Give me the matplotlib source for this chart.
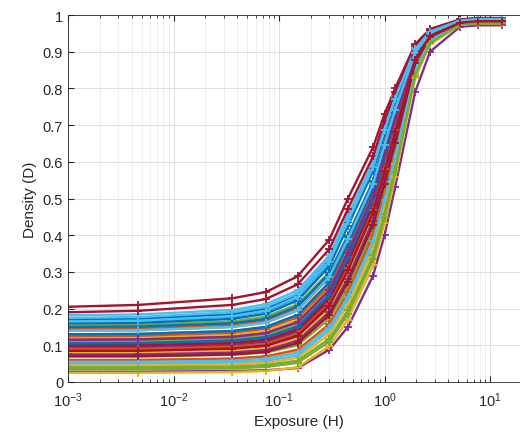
import numpy as np
import matplotlib
matplotlib.use("Agg")
import matplotlib.pyplot as plt
from matplotlib.ticker import LogLocator, NullFormatter

# =========================
# DATA
# =========================

exposure = [0.001, 0.0046, 0.036, 0.075, 0.15, 0.3, 0.45, 0.78, 1.0, 1.26, 1.95, 2.7, 5.2, 7.7, 12.9]

c00 = [0.170, 0.172, 0.185, 0.200, 0.235, 0.330, 0.440, 0.585, 0.685, 0.770, 0.905, 0.955, 0.985, 0.988, 0.988]
c01 = [0.140, 0.141, 0.150, 0.162, 0.195, 0.285, 0.385, 0.535, 0.640, 0.735, 0.895, 0.950, 0.982, 0.986, 0.986]
c02 = [0.120, 0.121, 0.128, 0.138, 0.168, 0.255, 0.355, 0.510, 0.615, 0.715, 0.890, 0.948, 0.981, 0.985, 0.985]
c03 = [0.028, 0.028, 0.030, 0.032, 0.038, 0.088, 0.150, 0.290, 0.400, 0.530, 0.790, 0.900, 0.968, 0.972, 0.972]
c04 = [0.155, 0.156, 0.165, 0.178, 0.212, 0.300, 0.400, 0.545, 0.650, 0.745, 0.900, 0.952, 0.983, 0.987, 0.987]
c05 = [0.182, 0.184, 0.196, 0.212, 0.250, 0.345, 0.455, 0.600, 0.700, 0.780, 0.910, 0.957, 0.986, 0.990, 0.990]
c06 = [0.205, 0.210, 0.228, 0.245, 0.288, 0.388, 0.500, 0.640, 0.730, 0.800, 0.920, 0.962, 0.988, 0.992, 0.992]
c07 = [0.160, 0.161, 0.172, 0.186, 0.222, 0.315, 0.425, 0.575, 0.675, 0.762, 0.905, 0.954, 0.984, 0.988, 0.988]
c08 = [0.145, 0.146, 0.156, 0.168, 0.202, 0.292, 0.395, 0.548, 0.655, 0.750, 0.902, 0.952, 0.983, 0.987, 0.987]
c09 = [0.100, 0.101, 0.107, 0.116, 0.145, 0.232, 0.335, 0.500, 0.612, 0.715, 0.893, 0.950, 0.982, 0.986, 0.986]
c10 = [0.085, 0.085, 0.090, 0.098, 0.124, 0.205, 0.300, 0.455, 0.565, 0.672, 0.875, 0.942, 0.978, 0.982, 0.982]
c11 = [0.130, 0.131, 0.139, 0.150, 0.182, 0.270, 0.372, 0.525, 0.632, 0.730, 0.895, 0.950, 0.982, 0.986, 0.986]
c12 = [0.175, 0.177, 0.190, 0.205, 0.242, 0.338, 0.448, 0.595, 0.695, 0.778, 0.910, 0.956, 0.985, 0.989, 0.989]
c13 = [0.190, 0.194, 0.210, 0.226, 0.266, 0.362, 0.472, 0.615, 0.712, 0.790, 0.915, 0.960, 0.987, 0.991, 0.991]
c14 = [0.165, 0.166, 0.178, 0.193, 0.230, 0.325, 0.435, 0.582, 0.682, 0.768, 0.906, 0.955, 0.985, 0.988, 0.988]
c15 = [0.125, 0.126, 0.134, 0.145, 0.176, 0.262, 0.365, 0.520, 0.628, 0.725, 0.893, 0.949, 0.981, 0.985, 0.985]
c16 = [0.060, 0.060, 0.063, 0.068, 0.085, 0.155, 0.240, 0.395, 0.505, 0.620, 0.855, 0.935, 0.976, 0.980, 0.980]
c17 = [0.095, 0.095, 0.101, 0.110, 0.138, 0.222, 0.320, 0.475, 0.588, 0.692, 0.880, 0.944, 0.979, 0.983, 0.983]
c18 = [0.110, 0.111, 0.118, 0.127, 0.156, 0.242, 0.345, 0.502, 0.612, 0.712, 0.889, 0.947, 0.980, 0.984, 0.984]
c19 = [0.050, 0.050, 0.053, 0.057, 0.072, 0.140, 0.222, 0.375, 0.488, 0.605, 0.850, 0.932, 0.975, 0.979, 0.979]
c20 = [0.090, 0.090, 0.096, 0.104, 0.132, 0.215, 0.312, 0.470, 0.582, 0.688, 0.880, 0.944, 0.979, 0.983, 0.983]
c21 = [0.150, 0.151, 0.160, 0.172, 0.206, 0.296, 0.398, 0.548, 0.652, 0.745, 0.898, 0.951, 0.983, 0.987, 0.987]
c22 = [0.115, 0.116, 0.123, 0.133, 0.163, 0.250, 0.352, 0.508, 0.618, 0.718, 0.890, 0.948, 0.981, 0.985, 0.985]
c23 = [0.080, 0.080, 0.085, 0.092, 0.118, 0.198, 0.292, 0.450, 0.562, 0.670, 0.875, 0.942, 0.978, 0.982, 0.982]
c24 = [0.105, 0.105, 0.112, 0.121, 0.150, 0.236, 0.338, 0.495, 0.605, 0.706, 0.886, 0.946, 0.980, 0.984, 0.984]
c25 = [0.070, 0.070, 0.074, 0.080, 0.100, 0.172, 0.258, 0.412, 0.522, 0.635, 0.860, 0.937, 0.977, 0.981, 0.981]
c26 = [0.165, 0.167, 0.179, 0.194, 0.232, 0.328, 0.438, 0.586, 0.686, 0.772, 0.907, 0.955, 0.985, 0.989, 0.989]
c27 = [0.100, 0.100, 0.106, 0.115, 0.143, 0.228, 0.328, 0.485, 0.597, 0.700, 0.884, 0.945, 0.979, 0.983, 0.983]
c28 = [0.130, 0.131, 0.139, 0.150, 0.183, 0.272, 0.375, 0.528, 0.635, 0.732, 0.895, 0.950, 0.982, 0.986, 0.986]
c29 = [0.060, 0.060, 0.064, 0.070, 0.088, 0.158, 0.245, 0.400, 0.510, 0.625, 0.857, 0.936, 0.976, 0.980, 0.980]
c30 = [0.045, 0.045, 0.048, 0.052, 0.066, 0.130, 0.210, 0.362, 0.475, 0.595, 0.845, 0.930, 0.975, 0.979, 0.979]
c31 = [0.075, 0.075, 0.080, 0.087, 0.112, 0.190, 0.282, 0.440, 0.552, 0.662, 0.872, 0.941, 0.978, 0.982, 0.982]
c32 = [0.040, 0.040, 0.042, 0.046, 0.058, 0.118, 0.195, 0.345, 0.458, 0.580, 0.838, 0.925, 0.974, 0.978, 0.978]
c33 = [0.055, 0.055, 0.058, 0.063, 0.079, 0.148, 0.232, 0.385, 0.497, 0.612, 0.852, 0.934, 0.976, 0.980, 0.980]
c34 = [0.070, 0.070, 0.075, 0.082, 0.106, 0.182, 0.272, 0.428, 0.540, 0.650, 0.868, 0.940, 0.978, 0.982, 0.982]
c35 = [0.105, 0.106, 0.113, 0.122, 0.151, 0.238, 0.340, 0.497, 0.607, 0.708, 0.887, 0.946, 0.980, 0.984, 0.984]
c36 = [0.090, 0.090, 0.096, 0.104, 0.131, 0.213, 0.310, 0.468, 0.580, 0.686, 0.879, 0.943, 0.979, 0.983, 0.983]
c37 = [0.025, 0.025, 0.027, 0.030, 0.040, 0.098, 0.170, 0.318, 0.432, 0.558, 0.828, 0.920, 0.973, 0.977, 0.977]
c38 = [0.115, 0.116, 0.123, 0.133, 0.163, 0.250, 0.352, 0.508, 0.618, 0.718, 0.890, 0.948, 0.981, 0.985, 0.985]
c39 = [0.035, 0.035, 0.037, 0.041, 0.052, 0.110, 0.185, 0.335, 0.448, 0.572, 0.835, 0.923, 0.974, 0.978, 0.978]
c40 = [0.140, 0.141, 0.150, 0.162, 0.196, 0.287, 0.390, 0.540, 0.646, 0.742, 0.897, 0.951, 0.983, 0.987, 0.987]
c41 = [0.085, 0.085, 0.091, 0.099, 0.126, 0.208, 0.304, 0.462, 0.574, 0.680, 0.877, 0.943, 0.979, 0.983, 0.983]

curves = [c00, c01, c02, c03, c04, c05, c06, c07, c08, c09, c10, c11, c12, c13,
          c14, c15, c16, c17, c18, c19, c20, c21, c22, c23, c24, c25, c26, c27,
          c28, c29, c30, c31, c32, c33, c34, c35, c36, c37, c38, c39, c40, c41]

y_ticks = [0, 0.1, 0.2, 0.3, 0.4, 0.5, 0.6, 0.7, 0.8, 0.9, 1]
y_tick_labels = ["0", "0.1", "0.2", "0.3", "0.4", "0.5", "0.6", "0.7", "0.8", "0.9", "1"]

# MATLAB default color order
matlab_colors = ["#0072BD", "#D95319", "#EDB120", "#7E2F8E", "#77AC30", "#4DBEEE", "#A2142F"]

# =========================
# FIGURE
# =========================

plt.rcParams["font.family"] = ["Liberation Sans", "DejaVu Sans"]

fig = plt.figure(figsize=(5.2, 4.39), dpi=100)
ax = fig.add_axes([68 / 520, 56 / 439, 462 / 520, 367 / 439])

for i, d in enumerate(curves):
    ax.plot(exposure, d, color=matlab_colors[i % 7], linewidth=1.7,
            marker="+", markersize=6, markeredgewidth=1.3)

ax.set_xscale("log")
ax.set_xlim(1e-3, 10 ** 1.379)
ax.set_ylim(0, 1)
ax.set_yticks(y_ticks)
ax.set_yticklabels(y_tick_labels)
ax.xaxis.set_major_locator(LogLocator(base=10, numticks=10))
ax.xaxis.set_minor_locator(LogLocator(base=10, subs=np.arange(2, 10), numticks=20))
ax.xaxis.set_minor_formatter(NullFormatter())

ax.grid(True, which="major", color="#d9d9d9", linewidth=0.6)
ax.grid(True, which="minor", axis="x", color="#ececec", linewidth=0.6)
ax.set_axisbelow(True)

ax.tick_params(which="both", direction="in", colors="#262626", labelsize=10.5, top=True)
ax.tick_params(which="major", length=4)
ax.tick_params(which="minor", length=2)
ax.tick_params(axis="x", which="major", pad=6)
for sp in ax.spines.values():
    sp.set_color("#262626")
    sp.set_linewidth(0.6)

ax.set_xlabel("Exposure (H)", fontsize=11, color="#262626")
ax.set_ylabel("Density (D)", fontsize=11, color="#262626")

plt.savefig("out.png", dpi=100)
plt.close()
